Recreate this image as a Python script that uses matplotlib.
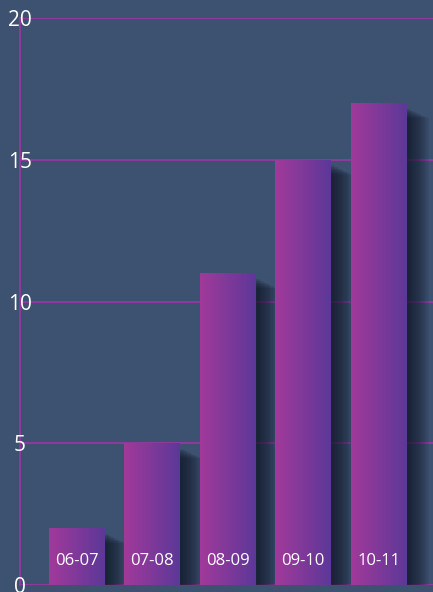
import numpy as np
import matplotlib.pyplot as plt
from matplotlib.colors import LinearSegmentedColormap

plt.rcParams['font.family'] = ['Open Sans', 'DejaVu Sans']

temporadas = ['06-07', '07-08', '08-09', '09-10', '10-11']
valores = [2, 5, 11, 15, 17]
y_ticks = [0, 5, 10, 15, 20]

fundo = '#3d5170'
roxo_linha = '#8f3a9e'
gradiente = LinearSegmentedColormap.from_list('barra', ['#a23a9b', '#5c3898'])

fig = plt.figure(figsize=(4.33, 5.92), dpi=100)
fig.patch.set_facecolor(fundo)
ax = fig.add_axes([20 / 433, 7 / 592, 413 / 433, 567 / 592])
ax.set_facecolor(fundo)

x = np.arange(len(temporadas))
largura = 0.74

for y in y_ticks:
    ax.axhline(y, color=roxo_linha, lw=1.4, zorder=1)

# sombra borrada a direita das barras
for xi, v in zip(x, valores):
    for k in range(16):
        dx = 0.017 * k
        ax.add_patch(plt.Rectangle((xi - largura / 2 + 0.04 + dx, -0.4), largura, v + 0.2 - 0.35 * k / 16,
                                   color='#121829', alpha=0.075, lw=0, zorder=2))

barras = ax.bar(x, valores, width=largura, color='none', zorder=3)
grad = np.linspace(0, 1, 256).reshape(1, -1)
for b in barras:
    x0, y0 = b.get_x(), b.get_y()
    w, h = b.get_width(), b.get_height()
    im = ax.imshow(grad, cmap=gradiente, aspect='auto', extent=(x0, x0 + w, y0, y0 + h), zorder=3)
    im.set_clip_path(b)

for xi, t in zip(x, temporadas):
    ax.text(xi, 0.85, t, color='white', fontsize=12, ha='center', va='center', zorder=5)

ax.set_xlim(-0.75, 4.72)
ax.set_ylim(0, 20)
ax.set_xticks([])
ax.set_yticks(y_ticks)
ax.tick_params(axis='y', length=0, pad=0, labelsize=15, labelcolor='white')
for lab in ax.get_yticklabels():
    lab.set_horizontalalignment('center')
for s in ['top', 'right', 'bottom']:
    ax.spines[s].set_visible(False)
ax.spines['left'].set_color(roxo_linha)
ax.spines['left'].set_linewidth(1.4)
ax.spines['left'].set_zorder(0.5)
ax.yaxis.set_zorder(6)

fig.savefig('out.png', dpi=100, facecolor=fundo)
